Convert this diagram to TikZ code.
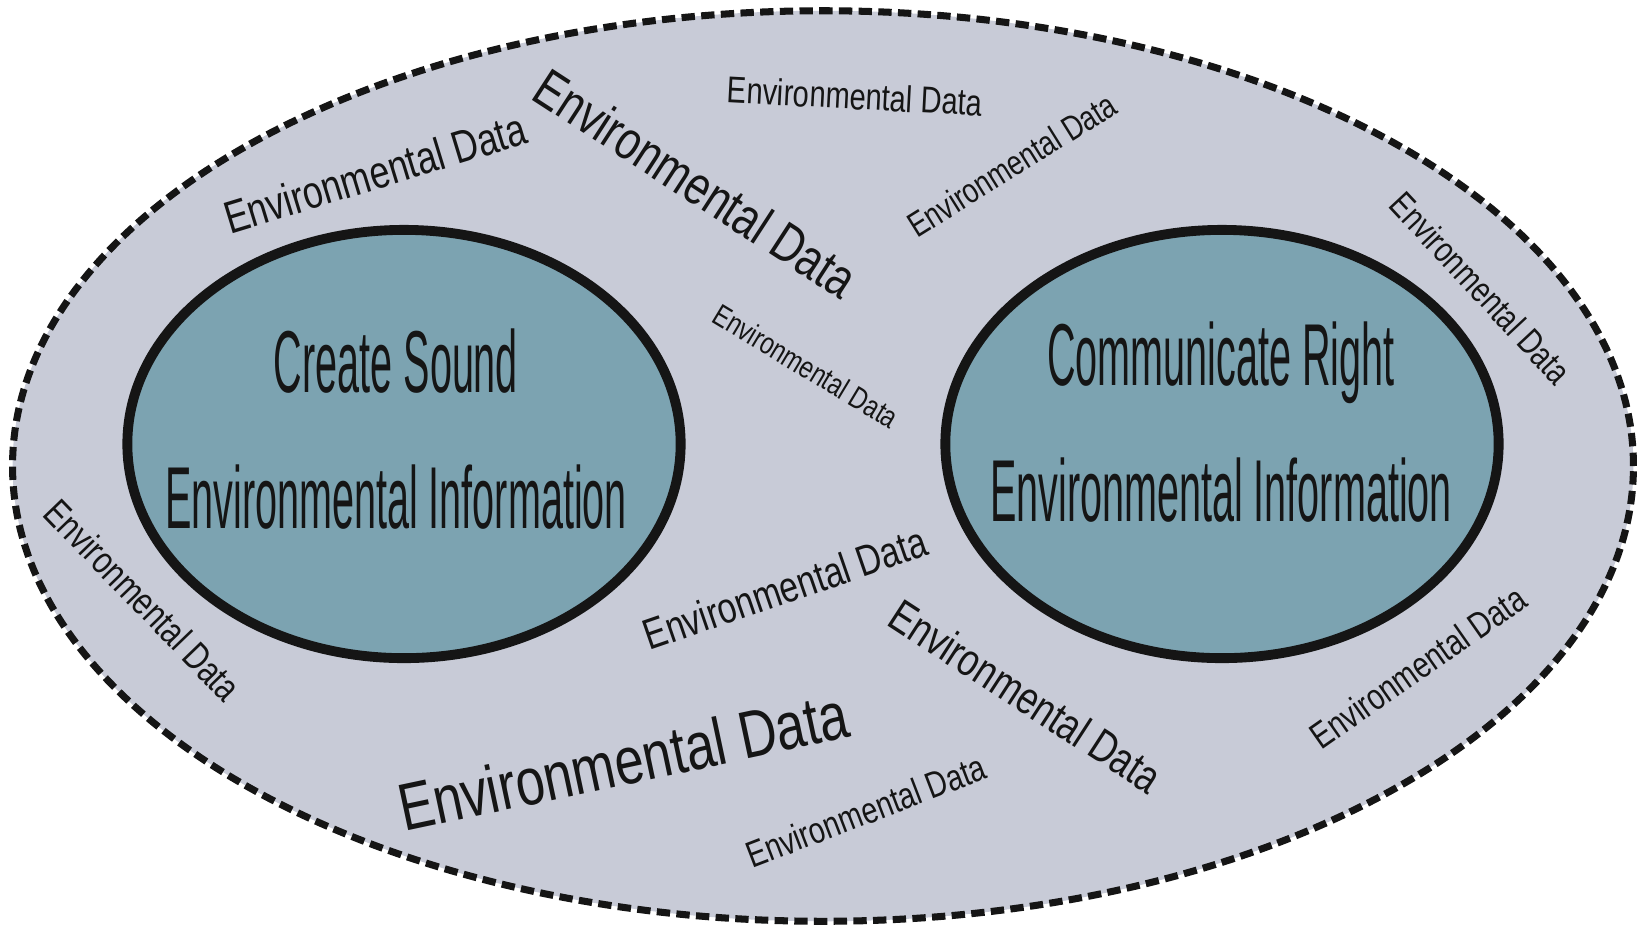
\documentclass[tikz,border=0pt]{standalone}
\usepackage{fontspec}
\newfontfamily\datafont[FakeStretch=0.78]{Liberation Sans}
\newfontfamily\titlefont[FakeStretch=0.45]{Liberation Sans}
\usetikzlibrary{shapes.geometric}

\definecolor{outerfill}{HTML}{C8CBD7}
\definecolor{innerfill}{HTML}{7CA3B1}
\definecolor{inkblack}{HTML}{151515}

\begin{document}
\begin{tikzpicture}[x=0.01cm, y=-0.01cm,
	datalabel/.style={font={\datafont\fontsize{#1}{#1}\selectfont}, text=inkblack, inner sep=0pt},
	goal/.style={ellipse, draw=inkblack, line width=2.8pt, fill=innerfill, minimum width=5.53cm, minimum height=4.28cm},
	goaltext/.style={font={\titlefont\fontsize{25}{38.7}\selectfont}, align=center, text=inkblack}]
		% Define the frame
		\useasboundingbox (0,0) rectangle (1641,926);

		% Draw the outer region
		\coordinate (mid) at (823,466);
		\draw[fill=outerfill, draw=inkblack, line width=2pt, dash pattern=on 3.8pt off 1.8pt] (mid) ellipse [x radius=8.1cm, y radius=4.55cm];

		% Draw the two goals
		\node[goal] (sound) at (404,444) {};
		\node[goal] (right) at (1222,444) {};
		\node[goaltext] (soundtext) at (396,429) {Create Sound\\Environmental Information};
		\node[goaltext] (righttext) at (1221,422) {Communicate Right\\Environmental Information};

		% Scatter the data labels
		\foreach \x/\y/\angle/\size [count=\i] in {375/173/17/13, 696/183/-33/15.4, 855/96/-3/10.6, 1012/165/32/9.9,
			1481/288/-47/10.2, 806/366/-31/8.7, 785/588/19/12.3, 143/600/-46/10.9,
			623/761/12/19, 1026/696/-33/13, 866/811/21/10.5, 1418/667/35/10.5}
		\node[datalabel=\size, rotate=\angle] (data\i) at (\x,\y) {Environmental Data};
	\end{tikzpicture}
\end{document}
